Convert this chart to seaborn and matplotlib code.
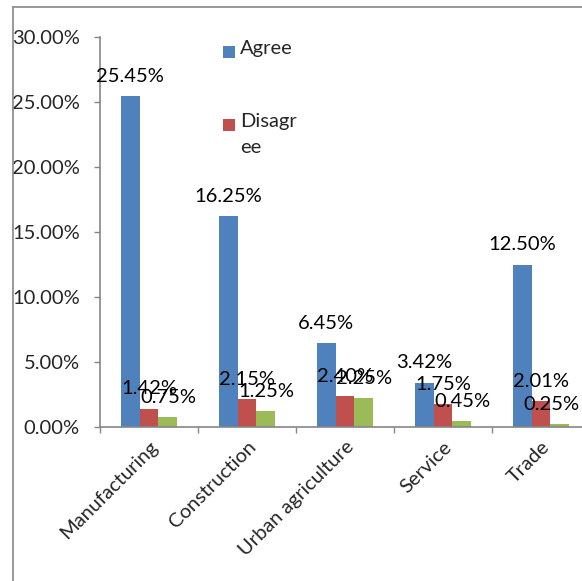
import matplotlib
matplotlib.use("Agg")
import matplotlib.pyplot as plt
from matplotlib.patches import Rectangle
from matplotlib.lines import Line2D
import seaborn as sns
import pandas as pd

# Survey responses by sector (% of respondents)
sectors = ["Manufacturing", "Construction", "Urban agriculture", "Service", "Trade"]
agree = [25.45, 16.25, 6.45, 3.42, 12.50]
disagree = [1.42, 2.15, 2.40, 1.75, 2.01]
neutral = [0.75, 1.25, 2.25, 0.45, 0.25]
responses = ["Agree", "Disagree", "Neutral"]
legend_labels = ["Agree", "Disagr\nee"]
yticks = [0, 5, 10, 15, 20, 25, 30]

colors = ["#4F81BD", "#C0504D", "#9BBB59"]
grey = "#868686"

df = pd.DataFrame({
    "Sector": sectors * 3,
    "Share": agree + disagree + neutral,
    "Response": [r for r in responses for _ in sectors],
})

sns.set_theme(style="white")
plt.rcParams["font.family"] = ["Lato", "DejaVu Sans"]
FS = 14.5

fig = plt.figure(figsize=(5.82, 5.81), dpi=100)
W, H = 582, 581
ax = fig.add_axes([100 / W, (H - 427) / H, 490 / W, 390 / H])

sns.barplot(data=df, x="Sector", y="Share", hue="Response", order=sectors,
            hue_order=responses, palette=colors, saturation=1, width=0.58,
            linewidth=0, legend=False, ax=ax)

value_labels = []
for cont in ax.containers:
    value_labels += ax.bar_label(cont,
                                 labels=[f"{b.get_height():.2f}%" for b in cont],
                                 padding=8, fontsize=FS, color="black")

ax.set_xlim(-0.5, len(sectors) - 0.5)
ax.set_ylim(0, 30)
ax.set_yticks(yticks)
ax.set_yticklabels([f"{v:.2f}%" for v in yticks], fontsize=FS)
ax.set_xlabel("")
ax.set_ylabel("")

# tick marks on category boundaries, labels at category centres
ax.set_xticks([i - 0.5 for i in range(len(sectors) + 1)])
ax.set_xticklabels([])
ax.set_xticks(range(len(sectors)), minor=True)
ax.set_xticklabels(sectors, minor=True, rotation=45, ha="right",
                   rotation_mode="anchor", fontsize=FS)
ax.tick_params(axis="x", which="major", length=4.5, width=1, color=grey,
               direction="out", bottom=True)
ax.tick_params(axis="x", which="minor", length=0, pad=8, bottom=True)
ax.tick_params(axis="y", length=4.5, width=1, color=grey, direction="out",
               left=True, pad=10)

for side in ["top", "right"]:
    ax.spines[side].set_visible(False)
for side in ["left", "bottom"]:
    ax.spines[side].set_color(grey)
    ax.spines[side].set_linewidth(1.2)

# keep value labels inside the figure's right edge
fig.canvas.draw()
renderer = fig.canvas.get_renderer()
for ann in value_labels:
    bb = ann.get_window_extent(renderer)
    overflow = bb.x1 - (W - 2)
    if overflow > 0:
        dx, dy = ann.xyann
        ann.xyann = (dx - overflow * 72 / fig.dpi, dy)

# legend entries drawn in figure pixels
leg_pos = [(223, 52), (223, 125)]
for (lx, ly), lab, col in zip(leg_pos, legend_labels, colors):
    fig.patches.append(Rectangle(((lx) / W, (H - ly - 6) / H), 12 / W, 12 / H,
                                 transform=fig.transFigure, facecolor=col,
                                 edgecolor="none"))
    fig.text((lx + 17) / W, (H - ly + 12) / H, lab, fontsize=FS, va="top",
             ha="left", linespacing=1.65)

# outer frame
fig.add_artist(Line2D([13 / W, 13 / W], [0, (H - 7) / H], color=grey, lw=1.2,
                      transform=fig.transFigure))
fig.add_artist(Line2D([13 / W, 1], [(H - 7) / H, (H - 7) / H], color=grey,
                      lw=1.2, transform=fig.transFigure))

fig.savefig("out.png", dpi=100)
